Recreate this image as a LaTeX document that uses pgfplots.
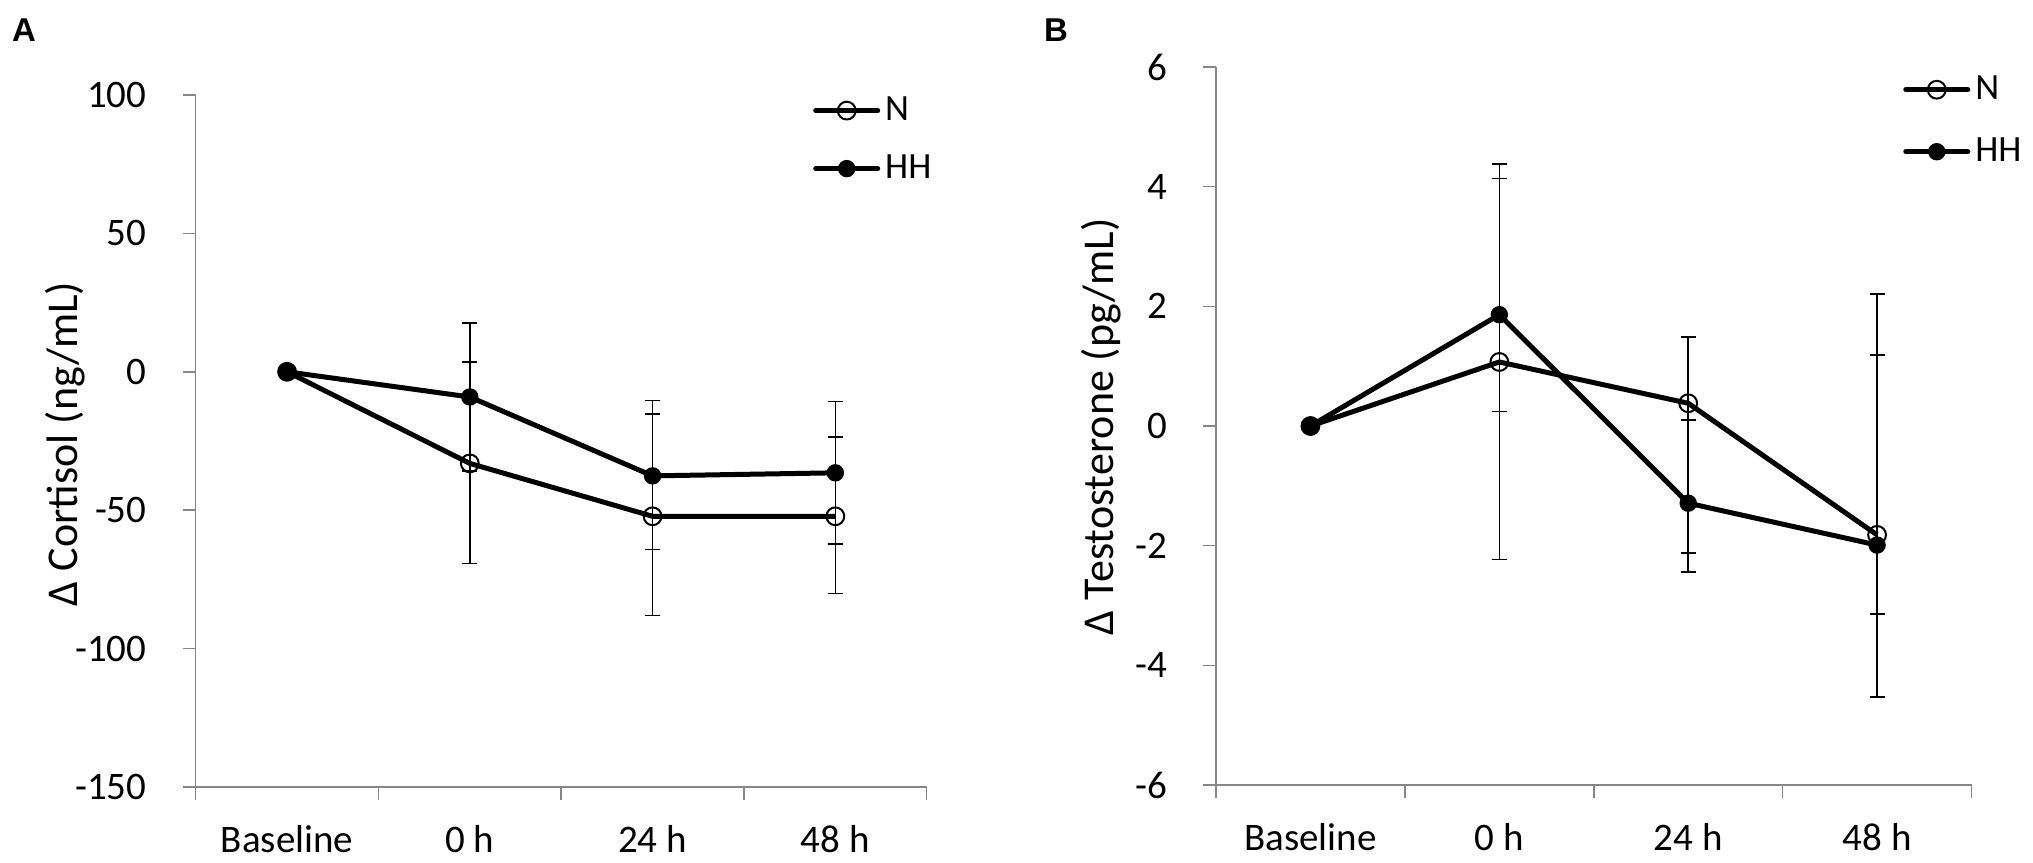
\documentclass[border=0pt]{standalone}
\usepackage{fontspec}
\setmainfont{Carlito}
\newfontfamily\panelfont{Liberation Sans}
\usepackage{pgfplots}
\usepackage{pgfplotstable}
\pgfplotsset{compat=1.18}
\definecolor{axisgray}{HTML}{868686}

% Panel A: Cortisol (x index, mean, error plus, error minus)
\pgfplotstableread{
x y ep em
0 0 0 0
1 -33.1 36.6 36.2
2 -52.2 36.9 35.8
3 -52.2 28.7 27.9
}\dataAN
\pgfplotstableread{
x y ep em
0 0 0 0
1 -9.1 26.8 26.8
2 -37.6 27.3 26.6
3 -36.5 25.8 25.8
}\dataAHH
% Panel B: Testosterone
\pgfplotstableread{
x y ep em
0 0 0 0
1 1.07 3.31 3.30
2 0.38 1.11 2.82
3 -1.82 4.03 2.71
}\dataBN
\pgfplotstableread{
x y ep em
0 0 0 0
1 1.86 2.28 1.615
2 -1.29 1.39 0.83
3 -1.99 3.18 1.15
}\dataBHH

\pgfplotsset{
  myaxis/.style={
    scale only axis,
    clip=false,
    axis lines*=left,
    axis line style={draw=axisgray, line width=1.5pt, -},
    xmin=-0.5, xmax=3.5,
    xtick={-0.5,0.5,1.5,2.5,3.5},
    xticklabels={},
    extra x ticks={0,1,2,3},
    extra x tick labels={Baseline,0 h,24 h,48 h},
    extra x tick style={major tick length=0pt, tick style={draw=none},
      xticklabel style={anchor=base, inner sep=0pt, yshift=-65pt}},
    major tick length=13pt,
    tick align=outside,
    tick style={draw=axisgray, line width=1.5pt},
    tick label style={font=\fontsize{39}{45}\selectfont, text=black},
    /pgf/number format/assume math mode=true,
    yticklabel style={anchor=east, inner sep=0pt, xshift=-36pt},
    label style={font=\fontsize{44}{50}\selectfont},
    legend image code/.code={
      \draw[mark repeat=2, mark phase=2, line cap=round, ##1] plot coordinates {(0pt,0pt) (31pt,0pt) (62pt,0pt)};
    },
    legend cell align=left,
  },
  serN/.style={black, line width=5pt, line join=round, mark=o, mark size=8.9pt,
    mark options={solid, line width=2pt, draw=black, fill=none}},
  serHH/.style={black, line width=5pt, line join=round, mark=*, mark size=8.2pt,
    mark options={solid, line width=1pt, draw=black, fill=black}},
  errs/.style={forget plot, draw=none, mark=none, skip coords between index={0}{1},
    error bars/.cd, y dir=both, y explicit,
    error bar style={draw=black, line width=1.5pt},
    error mark options={draw=black, line width=1.5pt, mark size=7.5pt, rotate=90}},
}

\begin{document}
\begin{tikzpicture}
\useasboundingbox (0pt,0pt) rectangle (2033pt,862pt);

\node[font=\panelfont\bfseries\fontsize{33}{38}\selectfont] at (24pt,832pt) {A};
\node[font=\panelfont\bfseries\fontsize{33}{38}\selectfont] at (1056pt,832pt) {B};

% ---------- Panel A ----------
\begin{axis}[myaxis,
  at={(195.7pt,75pt)}, anchor=south west,
  width=731pt, height=692pt,
  ymin=-150, ymax=100, ytick={-150,-100,-50,0,50,100},
  ylabel={Δ Cortisol (ng/mL)},
  ylabel style={at={(axis description cs:-0.179,0.496)}, anchor=center},
  legend style={draw=none, fill=none, at={(axis description cs:0.8445,1.003)}, anchor=north west,
    inner sep=0pt, row sep=23pt, column sep=5pt,
    font=\fontsize{37}{43}\selectfont,
    nodes={inner sep=0pt, text height=27pt, text depth=8pt}},
]
\addplot[errs] table[x=x, y=y, y error plus=ep, y error minus=em] {\dataAN};
\addplot[errs] table[x=x, y=y, y error plus=ep, y error minus=em] {\dataAHH};
\addplot[serN] table[x=x, y=y] {\dataAN};
\addlegendentry{N}
\addplot[serHH] table[x=x, y=y] {\dataAHH};
\addlegendentry{HH}
\end{axis}

% ---------- Panel B ----------
\begin{axis}[myaxis,
  at={(1216pt,77pt)}, anchor=south west,
  width=755.5pt, height=718pt,
  ymin=-6, ymax=6, ytick={-6,-4,-2,0,2,4,6},
  ylabel={Δ Testosterone (pg/mL)},
  ylabel style={at={(axis description cs:-0.152,0.499)}, anchor=center},
  legend style={draw=none, fill=none, at={(axis description cs:0.9094,0.993)}, anchor=north west,
    inner sep=0pt, row sep=27pt, column sep=5pt,
    font=\fontsize{37}{43}\selectfont,
    nodes={inner sep=0pt, text height=27pt, text depth=8pt}},
]
\addplot[errs] table[x=x, y=y, y error plus=ep, y error minus=em] {\dataBN};
\addplot[errs] table[x=x, y=y, y error plus=ep, y error minus=em] {\dataBHH};
\addplot[serN] table[x=x, y=y] {\dataBN};
\addlegendentry{N}
\addplot[serHH] table[x=x, y=y] {\dataBHH};
\addlegendentry{HH}
\end{axis}
\end{tikzpicture}
\end{document}
